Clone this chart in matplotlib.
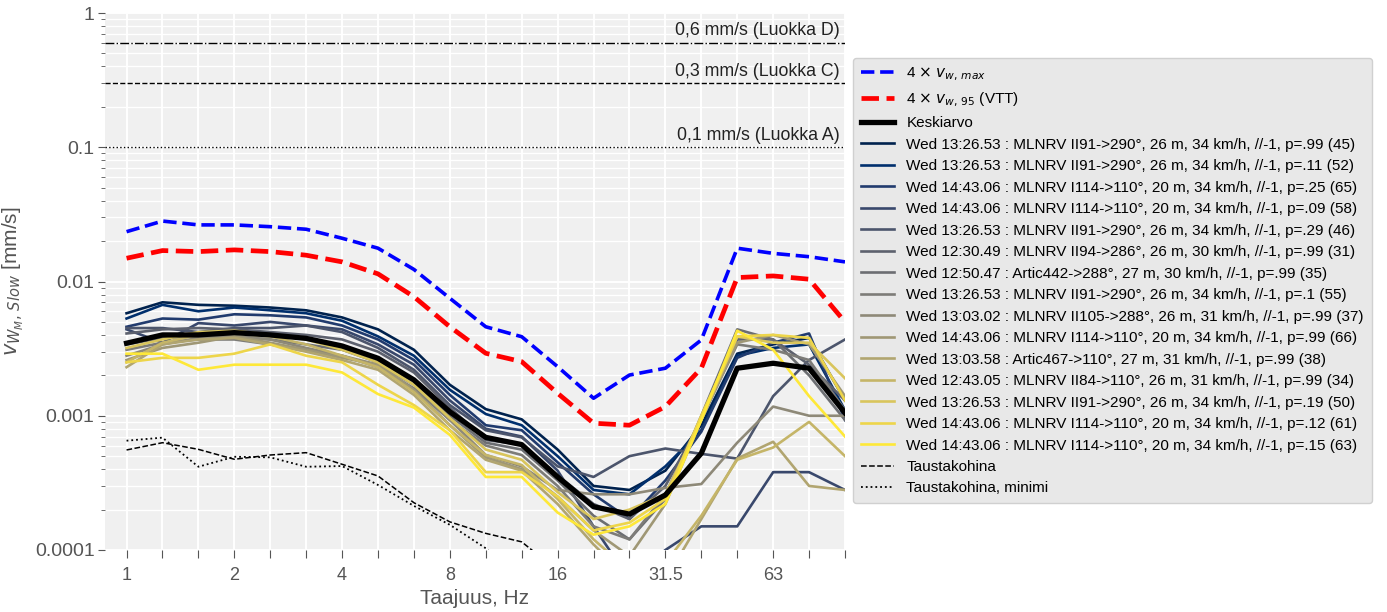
import numpy as np
import matplotlib.pyplot as plt
import matplotlib.ticker as mticker
from matplotlib import cm

# 1/3-oktaavikaistat
freqs = ['1', '1.25', '1.6', '2', '2.5', '3.15', '4', '5', '6.3', '8', '10',
         '12.5', '16', '20', '25', '31.5', '40', '50', '63', '80', '100']
major_labels = ['1', '2', '4', '8', '16', '31.5', '63']

vw_max = [0.0235, 0.0282, 0.0264, 0.0264, 0.0256, 0.0245, 0.0210, 0.0177, 0.0123, 0.0075,
          0.0046, 0.00388, 0.00232, 0.00135, 0.00201, 0.00226, 0.00367, 0.0177, 0.0162, 0.0153, 0.0140]
vw_95 = [0.0149, 0.0170, 0.0167, 0.0172, 0.0167, 0.0157, 0.0140, 0.0114, 0.0077, 0.0046,
         0.00292, 0.00253, 0.00147, 0.00088, 0.00085, 0.00117, 0.00226, 0.0107, 0.0110, 0.0104, 0.0050]
keskiarvo = [0.00347, 0.0040, 0.0040, 0.00416, 0.0040, 0.00377, 0.00331, 0.00268, 0.00185, 0.00107,
             0.00069, 0.00061, 0.00035, 0.00021, 0.000185, 0.000257, 0.000525, 0.00226, 0.00246, 0.00226, 0.00105]
tausta = [0.000556, 0.00063, 0.000562, 0.000474, 0.00051, 0.000531, 0.000435, 0.000356, 0.000225, 0.000162,
          0.000133, 0.000115, 0.00007, 0.00005, 0.00005, 0.00005, 0.00005, 0.00005, 0.00005, 0.00005, 0.00005]
tausta_min = [0.000652, 0.000687, 0.000417, 0.000495, 0.00049, 0.000417, 0.000422, 0.000305, 0.000213, 0.000154,
              0.000103, 0.00006, 0.00004, 0.00004, 0.00004, 0.00004, 0.00004, 0.00004, 0.00004, 0.00004, 0.00004]

labels = [
    'Wed 13:26.53 : MLNRV II91->290°, 26 m, 34 km/h, //-1, p=.99 (45)',
    'Wed 13:26.53 : MLNRV II91->290°, 26 m, 34 km/h, //-1, p=.11 (52)',
    'Wed 14:43.06 : MLNRV I114->110°, 20 m, 34 km/h, //-1, p=.25 (65)',
    'Wed 14:43.06 : MLNRV I114->110°, 20 m, 34 km/h, //-1, p=.09 (58)',
    'Wed 13:26.53 : MLNRV II91->290°, 26 m, 34 km/h, //-1, p=.29 (46)',
    'Wed 12:30.49 : MLNRV II94->286°, 26 m, 30 km/h, //-1, p=.99 (31)',
    'Wed 12:50.47 : Artic442->288°, 27 m, 30 km/h, //-1, p=.99 (35)',
    'Wed 13:26.53 : MLNRV II91->290°, 26 m, 34 km/h, //-1, p=.1 (55)',
    'Wed 13:03.02 : MLNRV II105->288°, 26 m, 31 km/h, //-1, p=.99 (37)',
    'Wed 14:43.06 : MLNRV I114->110°, 20 m, 34 km/h, //-1, p=.99 (66)',
    'Wed 13:03.58 : Artic467->110°, 27 m, 31 km/h, //-1, p=.99 (38)',
    'Wed 12:43.05 : MLNRV II84->110°, 26 m, 31 km/h, //-1, p=.99 (34)',
    'Wed 13:26.53 : MLNRV II91->290°, 26 m, 34 km/h, //-1, p=.19 (50)',
    'Wed 14:43.06 : MLNRV I114->110°, 20 m, 34 km/h, //-1, p=.12 (61)',
    'Wed 14:43.06 : MLNRV I114->110°, 20 m, 34 km/h, //-1, p=.15 (63)',
]

m0 = [0.0058, 0.0070, 0.0067, 0.0066, 0.0064, 0.0061, 0.0054, 0.0044, 0.0031, 0.0017, 0.00112,
      0.00094, 0.00056, 0.00030, 0.00028, 0.00039, 0.00085, 0.0029, 0.0034, 0.0038, 0.0013]
m1 = [0.0053, 0.0067, 0.0060, 0.0064, 0.0061, 0.0058, 0.0051, 0.0039, 0.0028, 0.00156, 0.00103,
      0.00085, 0.00050, 0.00028, 0.00026, 0.00042, 0.00078, 0.0028, 0.0032, 0.0034, 0.0011]
m2 = [0.0046, 0.0053, 0.0052, 0.0057, 0.0056, 0.0054, 0.0047, 0.0037, 0.0026, 0.00143, 0.00085,
      0.00078, 0.00045, 0.00026, 0.00017, 0.00033, 0.00076, 0.0027, 0.0035, 0.0041, 0.00093]
m3 = [0.0044, 0.0035, 0.0049, 0.0047, 0.0050, 0.0047, 0.0044, 0.0034, 0.0024, 0.0013, 0.00080,
      0.00070, 0.00039, 0.00015, 0.00006, 0.00010, 0.00015, 0.00015, 0.00038, 0.00038, 0.00028]
m4 = [0.0045, 0.0045, 0.0042, 0.0045, 0.0045, 0.0047, 0.0042, 0.0032, 0.0022, 0.0012, 0.00078,
      0.00069, 0.00042, 0.00035, 0.00050, 0.00057, 0.00052, 0.00048, 0.0014, 0.0026, 0.0037]
m5 = [0.0041, 0.0044, 0.0045, 0.0044, 0.0042, 0.0040, 0.0037, 0.0030, 0.0021, 0.00115, 0.00066,
      0.00061, 0.00036, 0.00022, 0.00017, 0.00030, 0.00093, 0.0037, 0.0037, 0.0024, 0.0013]
m6 = [0.0034, 0.0038, 0.0039, 0.0039, 0.0037, 0.0034, 0.0031, 0.0025, 0.0018, 0.0010, 0.00063,
      0.00056, 0.00033, 0.00018, 0.00012, 0.00024, 0.0010, 0.0044, 0.0037, 0.0020, 0.00093]
m7 = [0.0031, 0.0035, 0.0037, 0.0037, 0.0034, 0.0031, 0.0028, 0.0023, 0.0016, 0.00093, 0.00060,
      0.00051, 0.00030, 0.00015, 0.00012, 0.00026, 0.00096, 0.0034, 0.0031, 0.0026, 0.0011]
m8 = [0.0028, 0.0034, 0.0038, 0.0039, 0.0037, 0.0032, 0.0028, 0.0024, 0.0017, 0.00093, 0.00051,
      0.00042, 0.00028, 0.00026, 0.00026, 0.00029, 0.00031, 0.00063, 0.00117, 0.0010, 0.0010]
m9 = [0.0026, 0.0032, 0.0035, 0.0039, 0.0035, 0.0031, 0.0027, 0.0024, 0.00156, 0.00085, 0.00049,
      0.00040, 0.00025, 0.00014, 0.00009, 0.00022, 0.00093, 0.0035, 0.0040, 0.0034, 0.0014]
m10 = [0.0023, 0.0034, 0.0037, 0.0038, 0.0034, 0.0030, 0.0026, 0.0022, 0.00143, 0.00078, 0.00047,
       0.00039, 0.00022, 0.00011, 0.00006, 0.00006, 0.00017, 0.00048, 0.00064, 0.00030, 0.00028]
m11 = [0.0025, 0.0035, 0.0040, 0.0041, 0.0039, 0.0034, 0.0028, 0.0023, 0.0015, 0.00085, 0.00051,
       0.00043, 0.00024, 0.00012, 0.00007, 0.00008, 0.00018, 0.00047, 0.00058, 0.00090, 0.00050]
m12 = [0.0032, 0.0037, 0.0042, 0.0043, 0.0040, 0.0037, 0.0031, 0.0025, 0.0017, 0.00096, 0.00056,
       0.00047, 0.00027, 0.00017, 0.00020, 0.00026, 0.00093, 0.0039, 0.0035, 0.0035, 0.0019]
m13 = [0.0025, 0.0027, 0.0027, 0.0029, 0.0034, 0.0028, 0.0025, 0.0017, 0.0012, 0.00078, 0.00038,
       0.00038, 0.00025, 0.00014, 0.00016, 0.00024, 0.0010, 0.0039, 0.0040, 0.0038, 0.0013]
m14 = [0.0029, 0.0029, 0.0022, 0.0024, 0.0024, 0.0024, 0.0021, 0.00145, 0.00115, 0.00072, 0.00035,
       0.00035, 0.00019, 0.00013, 0.00015, 0.00022, 0.00093, 0.0043, 0.0031, 0.0014, 0.0007]
mittaukset = [m0, m1, m2, m3, m4, m5, m6, m7, m8, m9, m10, m11, m12, m13, m14]

rajat = [0.6, 0.3, 0.1]
raja_tekstit = ['0,6 mm/s (Luokka D)', '0,3 mm/s (Luokka C)', '0,1 mm/s (Luokka A)']
raja_tyylit = ['-.', '--', ':']

plt.rcParams['font.family'] = ['Liberation Sans', 'DejaVu Sans']

fig = plt.figure(figsize=(13.87, 6.12), dpi=100)
ax = fig.add_axes([105 / 1387, 62 / 612, 740 / 1387, 537 / 612])
ax.set_facecolor('#f0f0f0')
for s in ax.spines.values():
    s.set_visible(False)

x = np.arange(len(freqs))

for r, t, ls in zip(rajat, raja_tekstit, raja_tyylit):
    ax.axhline(r, color='black', lw=1, ls=ls)
    ax.text(0.993, r * 1.06, t, ha='right', va='bottom', fontsize=12.8, color='#222222',
            transform=ax.get_yaxis_transform())

ax.plot(x, vw_max, color='blue', ls='--', lw=2.6, label=r'4 $\times$ $v_{w,\,max}$', zorder=4)
ax.plot(x, vw_95, color='red', ls='--', lw=3.4, label=r'4 $\times$ $v_{w,\,95}$ (VTT)', zorder=4)
ax.plot(x, keskiarvo, color='black', lw=3.8, label='Keskiarvo', zorder=5)

colors = cm.cividis(np.linspace(0, 1, len(mittaukset)))
for m, c, lab in zip(mittaukset, colors, labels):
    ax.plot(x, m, color=c, lw=1.9, label=lab, zorder=3)

ax.plot(x, tausta, color='black', ls='--', lw=1.1, label='Taustakohina', zorder=3)
ax.plot(x, tausta_min, color='black', ls=':', lw=1.3, label='Taustakohina, minimi', zorder=3)

ax.set_yscale('log')
ax.set_ylim(0.0001, 1)
ax.set_xlim(-0.6, 19.4)

ax.set_xticks(x)
ax.set_xticklabels([f if f in major_labels else '' for f in freqs], fontsize=13, color='#555555')
ax.tick_params(axis='x', which='both', length=6, color='#555555', direction='out', pad=6)

ax.yaxis.set_major_locator(mticker.LogLocator(base=10, numticks=10))
ax.yaxis.set_minor_locator(mticker.LogLocator(base=10, subs=np.arange(2, 10), numticks=10))
ax.yaxis.set_major_formatter(mticker.FuncFormatter(lambda v, p: '%g' % v))
ax.yaxis.set_minor_formatter(mticker.NullFormatter())
ax.tick_params(axis='y', which='major', length=5, color='#555555', labelsize=14,
               labelcolor='#555555', pad=2.5)
ax.tick_params(axis='y', which='minor', length=3, color='#555555')

ax.grid(True, which='major', color='white', lw=1.4)
ax.grid(True, which='minor', axis='y', color='white', lw=1.0)
ax.set_axisbelow(True)

ax.set_xlabel('Taajuus, Hz', fontsize=15, color='#555555', labelpad=4)
ax.set_ylabel(r'$v_{W_M,\,Slow}$ [mm/s]', fontsize=15, color='#555555', labelpad=6)

leg = fig.legend(loc='upper left', bbox_to_anchor=(853 / 1387, 1 - 58 / 612), fontsize=11,
                 facecolor='#e8e8e8', edgecolor='#d0d0d0', framealpha=1, handlelength=2.2,
                 labelspacing=0.49, borderpad=0.5, borderaxespad=0, fancybox=True)

fig.savefig('out.png', dpi=100)
